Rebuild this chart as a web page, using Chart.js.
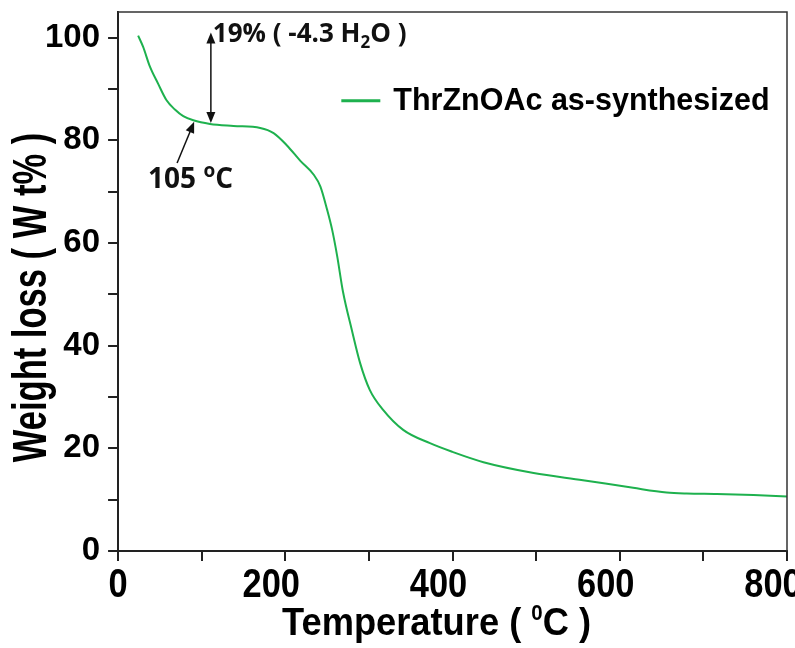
<!DOCTYPE html>
<html>
<head>
<meta charset="utf-8">
<script src="https://cdn.jsdelivr.net/npm/chart.js@4.4.0/dist/chart.umd.min.js"></script>
<style>
  html, body { margin: 0; padding: 0; background: #fff; }
  #wrap { width: 795px; height: 648px; }
</style>
</head>
<body>
<div id="wrap"><canvas id="tgaChart"></canvas></div>
<script>
// TGA curve (temperature in °C, weight in %)
const temperature = [24, 30, 38, 48, 58, 68, 78, 90, 110, 138, 170, 186, 202, 218, 234, 242, 250, 256, 262, 269, 279.5, 289.5, 301, 317, 341, 373, 400, 437, 497, 556, 616, 656, 680, 716, 760, 800];
const weightLoss  = [100.4, 98.2, 94.4, 91.0, 87.8, 86.0, 84.7, 83.9, 83.2, 82.8, 82.4, 81.4, 79.0, 76.0, 73.3, 71.0, 66.5, 62.6, 57.5, 50.5, 43.1, 36.6, 31.4, 27.5, 23.6, 21.0, 19.3, 17.3, 15.2, 13.8, 12.3, 11.4, 11.2, 11.1, 10.9, 10.6];

const xTickLabels = [0, 200, 400, 600, 800];
const yTickLabels = [0, 20, 40, 60, 80, 100];
const seriesLabel = "ThrZnOAc as-synthesized";
const lineColor = "#1eb14e";

// annotation anchors, in data units
const waterArrow = { x: 111, yTop: 101, yBottom: 83.4 };
const onsetArrow = { fromX: 70.6, fromY: 75.6, toX: 91, toY: 83.6 };
const legendAnchor = { x: 267, y: 87.7 };

const FONT = "'Liberation Sans', Arial, sans-serif";

function arrowHead(ctx, x1, y1, x2, y2) {
  const a = Math.atan2(y2 - y1, x2 - x1);
  const len = 11, w = 4.5;
  ctx.beginPath();
  ctx.moveTo(x2, y2);
  ctx.lineTo(x2 - len * Math.cos(a) + w * Math.sin(a), y2 - len * Math.sin(a) - w * Math.cos(a));
  ctx.lineTo(x2 - len * Math.cos(a) - w * Math.sin(a), y2 - len * Math.sin(a) + w * Math.cos(a));
  ctx.closePath();
  ctx.fill();
}

// draws runs of text (with sub/superscripts) centred on x, squeezed by sx
function drawRuns(ctx, runs, x, y, sx) {
  let total = 0;
  runs.forEach((r) => { ctx.font = r.font; total += ctx.measureText(r.text).width; });
  ctx.save();
  ctx.translate(x, y);
  ctx.scale(sx, 1);
  let px = -total / 2;
  runs.forEach((r) => {
    ctx.font = r.font;
    ctx.fillText(r.text, px, r.dy || 0);
    px += ctx.measureText(r.text).width;
  });
  ctx.restore();
}

const decorations = {
  id: "decorations",
  afterDraw(chart) {
    const { ctx, chartArea: area, scales: { x, y } } = chart;
    ctx.save();

    // frame on top and right
    ctx.strokeStyle = "#333";
    ctx.lineWidth = 1.5;
    ctx.beginPath();
    ctx.moveTo(area.left, area.top);
    ctx.lineTo(area.right, area.top);
    ctx.lineTo(area.right, area.bottom);
    ctx.stroke();

    // x tick labels (tall, slightly condensed like the original)
    ctx.fillStyle = "#000";
    ctx.textBaseline = "alphabetic";
    ctx.textAlign = "left";
    xTickLabels.forEach((v) => {
      const shift = v === 0 ? 0 : -14;
      drawRuns(ctx, [{ text: String(v), font: `bold 40px ${FONT}` }], x.getPixelForValue(v) + shift, area.bottom + 46, 0.86);
    });

    // axis titles
    drawRuns(ctx, [
      { text: "Temperature ( ", font: `bold 39px ${FONT}` },
      { text: "0", font: `bold 22px ${FONT}`, dy: -15 },
      { text: "C )", font: `bold 39px ${FONT}` },
    ], (area.left + area.right) / 2 - 16, area.bottom + 84, 0.93);

    ctx.save();
    ctx.translate(area.left - 85.5, (area.top + area.bottom) / 2 + 16);
    ctx.rotate(-Math.PI / 2);
    ctx.textBaseline = "middle";
    drawRuns(ctx, [{ text: "Weight loss ( W t% )", font: `bold 48px ${FONT}` }], 0, 0, 0.72);
    ctx.restore();

    ctx.strokeStyle = "#111";
    ctx.fillStyle = "#111";
    ctx.lineWidth = 1.5;
    ctx.textBaseline = "alphabetic";

    // double arrow for the water loss
    const ax = x.getPixelForValue(waterArrow.x);
    const at = y.getPixelForValue(waterArrow.yTop);
    const ab = y.getPixelForValue(waterArrow.yBottom);
    ctx.beginPath();
    ctx.moveTo(ax, at + 6);
    ctx.lineTo(ax, ab - 6);
    ctx.stroke();
    arrowHead(ctx, ax, ab, ax, at);
    arrowHead(ctx, ax, at, ax, ab);

    // arrow pointing at 105 °C
    const fx = x.getPixelForValue(onsetArrow.fromX), fy = y.getPixelForValue(onsetArrow.fromY);
    const tx = x.getPixelForValue(onsetArrow.toX), ty = y.getPixelForValue(onsetArrow.toY);
    ctx.beginPath();
    ctx.moveTo(fx, fy);
    ctx.lineTo(tx - (tx - fx) * 0.15, ty - (ty - fy) * 0.15);
    ctx.stroke();
    arrowHead(ctx, fx, fy, tx, ty);

    // annotation texts
    let px = ax + 2, py = at + 9;
    ctx.font = "bold 26px 'Open Sans'";
    ctx.fillText("19% ( -4.3 H", px, py);
    px += ctx.measureText("19% ( -4.3 H").width;
    ctx.font = "bold 17px 'Open Sans'";
    ctx.fillText("2", px, py + 6);
    px += ctx.measureText("2").width;
    ctx.font = "bold 26px 'Open Sans'";
    ctx.fillText("O )", px, py);

    px = fx - 29; py = fy + 25;
    ctx.font = "bold 28px 'Open Sans'";
    ctx.fillText("105 ", px, py);
    px += ctx.measureText("105 ").width;
    ctx.font = "bold 19px 'Open Sans'";
    ctx.fillText("o", px, py - 11);
    px += ctx.measureText("o").width;
    ctx.font = "bold 28px 'Open Sans'";
    ctx.fillText("C", px, py);

    // legend
    const lx = x.getPixelForValue(legendAnchor.x), ly = y.getPixelForValue(legendAnchor.y);
    ctx.strokeStyle = lineColor;
    ctx.lineWidth = 3;
    ctx.beginPath();
    ctx.moveTo(lx, ly);
    ctx.lineTo(lx + 39, ly);
    ctx.stroke();
    ctx.fillStyle = "#000";
    ctx.font = `bold 30.5px ${FONT}`;
    ctx.textBaseline = "middle";
    ctx.fillText(seriesLabel, lx + 52, ly + 1);

    ctx.restore();
  }
};

const ctx = document.getElementById("tgaChart").getContext("2d");
new Chart(ctx, {
  type: "line",
  data: {
    datasets: [{
      label: seriesLabel,
      data: temperature.map((t, i) => ({ x: t, y: weightLoss[i] })),
      borderColor: lineColor,
      borderWidth: 2,
      pointRadius: 0,
      fill: false,
      cubicInterpolationMode: "monotone",
    }],
  },
  options: {
    responsive: true,
    maintainAspectRatio: false,
    animation: false,
    layout: { padding: { left: 37, right: 8, top: 12, bottom: 39 } },
    plugins: {
      legend: { display: false },
      tooltip: { enabled: false },
    },
    scales: {
      x: {
        type: "linear",
        min: 0,
        max: 800,
        afterFit: (s) => { s.paddingLeft = 0; s.paddingRight = 0; },
        ticks: {
          stepSize: 100,
          autoSkip: false,
          maxRotation: 0,
          padding: 0,
          color: "rgba(0,0,0,0)", // labels are drawn by the plugin
          font: { family: "Liberation Sans", size: 40, weight: "bold" },
          callback: (v) => (xTickLabels.includes(v) ? v : ""),
        },
        grid: { drawOnChartArea: false, tickLength: 10, color: "#222", lineWidth: 2 },
        border: { color: "#222", width: 2 },
      },
      y: {
        min: 0,
        max: 105,
        afterBuildTicks: (s) => {
          const ticks = [];
          for (let v = 0; v <= 100; v += 10) ticks.push({ value: v });
          s.ticks = ticks;
        },
        afterFit: (s) => { s.paddingTop = 0; s.paddingBottom = 0; },
        ticks: {
          stepSize: 10,
          padding: 8,
          color: "#000",
          font: { family: "Liberation Sans", size: 33, weight: "bold" },
          callback: (v) => (yTickLabels.includes(v) ? v : ""),
        },
        grid: { drawOnChartArea: false, tickLength: 10, color: "#222", lineWidth: 2 },
        border: { color: "#222", width: 2 },
      },
    },
  },
  plugins: [decorations],
});
</script>
</body>
</html>
